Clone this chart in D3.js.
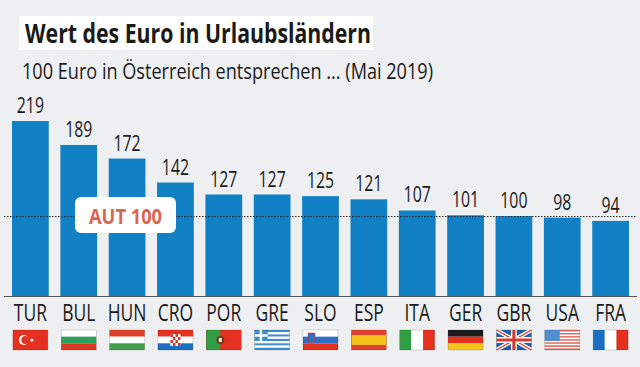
<!DOCTYPE html>
<html>
<head>
<meta charset="utf-8">
<script src="https://cdn.jsdelivr.net/npm/d3@7"></script>
<style>
  html, body { margin: 0; padding: 0; background: #eeeff1; }
  svg { display: block; }
  text { font-family: "Open Sans", "Liberation Sans", sans-serif; fill: #1a1a1a; }
</style>
</head>
<body>
<svg width="640" height="367"></svg>
<script>
var categories = ["TUR", "BUL", "HUN", "CRO", "POR", "GRE", "SLO", "ESP", "ITA", "GER", "GBR", "USA", "FRA"];
var values = [219, 189, 172, 142, 127, 127, 125, 121, 107, 101, 100, 98, 94];
var referenceLabel = "AUT";
var referenceValue = 100;
var titleText = "Wert des Euro in Urlaubsländern";
var subtitleText = "100 Euro in Österreich entsprechen ... (Mai 2019)";

var red = "#e5301f", green = "#2f9e44", blue = "#1b6fc2", white = "#ffffff";

var svg = d3.select("svg");

var x = d3.scaleBand().domain(categories).range([12, 629]).paddingInner(0.24).paddingOuter(0);
var y = d3.scaleLinear().domain([0, 219]).range([296, 121]);

// no condensed font is installed, so squeeze the glyphs to the measured width
function squeeze(sel, k) {
  sel.each(function() {
    d3.select(this)
      .attr("textLength", this.getComputedTextLength() * k)
      .attr("lengthAdjust", "spacingAndGlyphs");
  });
}
function fitWidth(sel, w) {
  sel.attr("textLength", w).attr("lengthAdjust", "spacingAndGlyphs");
}

// title
svg.append("rect").attr("x", 19).attr("y", 16).attr("width", 354).attr("height", 34).attr("fill", "#fff");
svg.append("text").attr("x", 25).attr("y", 43).attr("font-size", 26).attr("font-weight", "bold").text(titleText)
    .call(fitWidth, 346);
svg.append("text").attr("x", 22).attr("y", 79).attr("font-size", 21).text(subtitleText)
    .call(fitWidth, 411);

// bars
svg.selectAll("rect.bar").data(values).enter().append("rect")
    .attr("class", "bar")
    .attr("x", function(d, i) { return x(categories[i]); })
    .attr("y", function(d) { return y(d); })
    .attr("width", x.bandwidth())
    .attr("height", function(d) { return y(0) - y(d); })
    .attr("fill", "#1280c4");

svg.selectAll("text.val").data(values).enter().append("text")
    .attr("class", "val")
    .attr("x", function(d, i) { return x(categories[i]) + x.bandwidth() / 2; })
    .attr("y", function(d) { return y(d) - 8; })
    .attr("text-anchor", "middle")
    .attr("font-size", 22)
    .text(function(d) { return d; })
    .call(squeeze, 0.72);

// dotted line at the Austrian value
svg.append("line").attr("x1", 4).attr("x2", 637)
    .attr("y1", y(referenceValue) + 0.5).attr("y2", y(referenceValue) + 0.5)
    .attr("stroke", "#222").attr("stroke-width", 1).attr("stroke-dasharray", "1.5 1.5");

svg.append("rect").attr("x", 75).attr("y", 197).attr("width", 101).attr("height", 36)
    .attr("rx", 6).attr("fill", "#fff");
svg.append("text").attr("x", 125.5).attr("y", 224)
    .attr("text-anchor", "middle").attr("font-size", 21).attr("font-weight", "bold")
    .style("fill", "#d9654f")
    .text(referenceLabel + " " + referenceValue)
    .call(fitWidth, 73);

// axis
var axis = svg.append("g").attr("transform", "translate(0," + y(0) + ")")
    .call(d3.axisBottom(x).tickSize(0));
axis.select(".domain").remove();
axis.attr("font-family", null).attr("font-size", null);
axis.selectAll("text").attr("font-size", 23).attr("fill", null).attr("y", 25).attr("dy", 0)
    .call(squeeze, 0.76);
svg.append("line").attr("x1", 4).attr("x2", 637).attr("y1", y(0) + 0.5).attr("y2", y(0) + 0.5)
    .attr("stroke", "#555").attr("stroke-width", 1);

// flags
var flagW = 35, flagH = 20, flagTop = 330;

function hStripes(g, cols) {
  cols.forEach(function(c, i) {
    g.append("rect").attr("y", i * flagH / cols.length).attr("width", flagW).attr("height", flagH / cols.length).attr("fill", c);
  });
}
function vStripes(g, cols) {
  cols.forEach(function(c, i) {
    g.append("rect").attr("x", i * flagW / cols.length).attr("width", flagW / cols.length).attr("height", flagH).attr("fill", c);
  });
}

var flagDraw = {
  TUR: function(g) {
    hStripes(g, [red]);
    g.append("circle").attr("cx", 11).attr("cy", 10).attr("r", 5).attr("fill", "#fff");
    g.append("circle").attr("cx", 12.5).attr("cy", 10).attr("r", 4).attr("fill", red);
    g.append("circle").attr("cx", 19).attr("cy", 10).attr("r", 1.6).attr("fill", "#fff");
  },
  BUL: function(g) { hStripes(g, [white, "#2f9e5b", "#d93a25"]); },
  HUN: function(g) { hStripes(g, ["#e0402a", white, "#3f9d4b"]); },
  CRO: function(g) {
    hStripes(g, [red, white, blue]);
    g.append("rect").attr("x", 12.5).attr("y", 4).attr("width", 10).attr("height", 12).attr("fill", "#fff");
    d3.range(4).forEach(function(r) {
      d3.range(4).forEach(function(c) {
        if ((r + c) % 2 == 0) g.append("rect").attr("x", 12.5 + c * 2.5).attr("y", 4 + r * 3).attr("width", 2.5).attr("height", 3).attr("fill", "#d8342a");
      });
    });
  },
  POR: function(g) {
    g.append("rect").attr("width", flagW).attr("height", flagH).attr("fill", red);
    g.append("rect").attr("width", 14).attr("height", flagH).attr("fill", green);
    g.append("circle").attr("cx", 14).attr("cy", 10).attr("r", 4).attr("fill", "#6b3a1e");
    g.append("rect").attr("x", 12.5).attr("y", 8).attr("width", 3).attr("height", 4).attr("fill", "#eee");
  },
  GRE: function(g) {
    var lb = "#3f8fd0";
    hStripes(g, [lb, white, lb, white, lb, white, lb, white, lb]);
    g.append("rect").attr("width", 13).attr("height", 11).attr("fill", lb);
    g.append("rect").attr("x", 5).attr("width", 2.5).attr("height", 11).attr("fill", "#fff");
    g.append("rect").attr("y", 4.3).attr("width", 13).attr("height", 2.4).attr("fill", "#fff");
  },
  SLO: function(g) {
    hStripes(g, [white, "#2f6fc4", red]);
    g.append("path").attr("d", "M5 3h7v5q0 4-3.5 5q-3.5-1-3.5-5z").attr("fill", "#2f6fc4").attr("stroke", red).attr("stroke-width", 0.6);
  },
  ESP: function(g) {
    g.append("rect").attr("width", flagW).attr("height", flagH).attr("fill", "#e0402a");
    g.append("rect").attr("y", 5).attr("width", flagW).attr("height", 10).attr("fill", "#f5c21b");
  },
  ITA: function(g) { vStripes(g, [green, white, red]); },
  GER: function(g) { hStripes(g, ["#1a1a1a", red, "#f5c518"]); },
  GBR: function(g) {
    g.append("rect").attr("width", flagW).attr("height", flagH).attr("fill", "#1f5fa8");
    g.append("path").attr("d", "M0 0L35 20M35 0L0 20").attr("stroke", "#fff").attr("stroke-width", 4);
    g.append("path").attr("d", "M0 0L35 20M35 0L0 20").attr("stroke", "#d93a30").attr("stroke-width", 1.3);
    g.append("path").attr("d", "M17.5 0V20M0 10H35").attr("stroke", "#fff").attr("stroke-width", 6);
    g.append("path").attr("d", "M17.5 0V20M0 10H35").attr("stroke", "#d93a30").attr("stroke-width", 3.2);
  },
  USA: function(g) {
    var r = "#e2604f";
    hStripes(g, [r, white, r, white, r, white, r, white, r, white, r, white, r]);
    g.append("rect").attr("width", 15).attr("height", 11).attr("fill", "#4f8fd0");
  },
  FRA: function(g) { vStripes(g, [blue, white, red]); }
};

categories.forEach(function(c) {
  var g = svg.append("g").attr("transform", "translate(" + (x(c) + x.bandwidth() / 2 - flagW / 2) + "," + flagTop + ")");
  flagDraw[c](g);
  g.append("rect").attr("width", flagW).attr("height", flagH).attr("fill", "none").attr("stroke", "#000").attr("stroke-opacity", 0.25).attr("stroke-width", 0.6);
});
</script>
</body>
</html>
